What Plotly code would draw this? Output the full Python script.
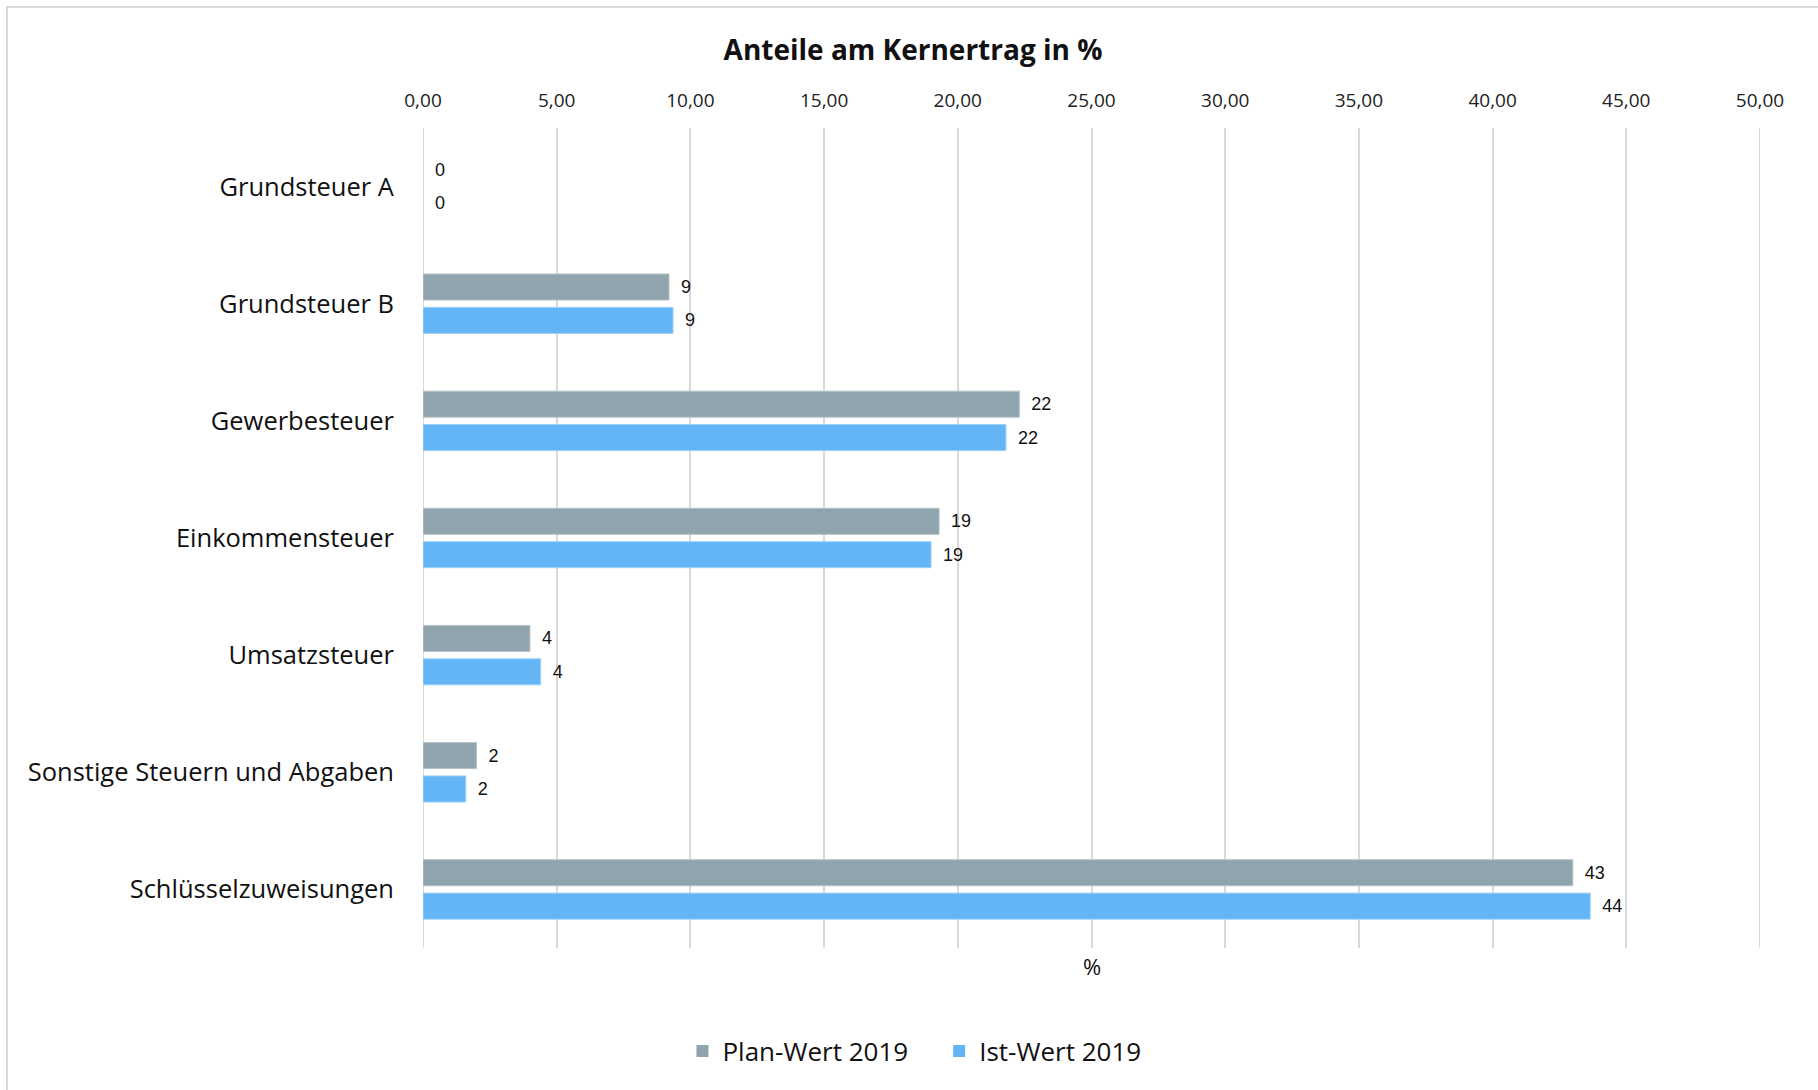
import plotly.graph_objects as go

categories = [
    "Grundsteuer A",
    "Grundsteuer B",
    "Gewerbesteuer",
    "Einkommensteuer",
    "Umsatzsteuer",
    "Sonstige Steuern und Abgaben",
    "Schlüsselzuweisungen",
]
plan_2019 = [0.0, 9.2, 22.3, 19.3, 4.0, 2.0, 43.0]
ist_2019 = [0.0, 9.35, 21.8, 19.0, 4.4, 1.6, 43.65]
x_ticks = [0, 5, 10, 15, 20, 25, 30, 35, 40, 45, 50]
x_tick_labels = ["0,00", "5,00", "10,00", "15,00", "20,00", "25,00",
                 "30,00", "35,00", "40,00", "45,00", "50,00"]

GRAY = "#90A4AE"
BLUE = "#64B5F6"
FONT = "Open Sans"
LABEL_FONT = dict(family="Liberation Sans, Arial", size=18, color="#111111")


def edge_widths(values):
    return [0 if v == 0 else 1 for v in values]


fig = go.Figure()
fig.add_trace(go.Bar(
    y=categories, x=plan_2019, orientation="h", name="Plan-Wert 2019\u2003",
    marker=dict(color=GRAY, line=dict(color="#B4C2C9", width=edge_widths(plan_2019))),
    texttemplate="\u2002%{x:.0f}", textposition="outside", cliponaxis=False,
    textfont=LABEL_FONT, hoverinfo="skip",
))
fig.add_trace(go.Bar(
    y=categories, x=ist_2019, orientation="h", name="Ist-Wert 2019",
    marker=dict(color=BLUE, line=dict(color="#9CD0FA", width=edge_widths(ist_2019))),
    texttemplate="\u2002%{x:.0f}", textposition="outside", cliponaxis=False,
    textfont=LABEL_FONT, hoverinfo="skip",
))

fig.update_layout(
    width=1818, height=1090,
    margin=dict(l=423, r=58, t=128, b=142),
    paper_bgcolor="white", plot_bgcolor="white",
    barmode="group", bargap=0.43, bargroupgap=0.22,
    font=dict(family=FONT, color="#111111"),
    title=dict(text="<b>Anteile am Kernertrag in %</b>",
               x=913 / 1818, xref="container", xanchor="center",
               y=1 - 50 / 1090, yref="container", yanchor="middle",
               font=dict(family=FONT, size=28, color="#111111")),
    legend=dict(orientation="h", xref="container", x=0.503, xanchor="center",
                yref="container", y=1 - 1051 / 1090, yanchor="middle",
                font=dict(family=FONT, size=26, color="#111111"),
                itemwidth=30, traceorder="normal"),
    showlegend=True,
)
fig.update_xaxes(
    side="top", range=[0, 50], tickvals=x_ticks, ticktext=x_tick_labels,
    showgrid=True, gridcolor="#D9D9D9", gridwidth=2,
    zeroline=False, showline=False, ticks="",
    tickfont=dict(family=FONT, size=19, color="#222222"),
    ticklabelstandoff=16, fixedrange=True,
)
fig.update_yaxes(
    autorange="reversed", showgrid=False, showline=False, ticks="",
    tickfont=dict(family=FONT, size=25.5, color="#111111"),
    ticklabelstandoff=28, fixedrange=True,
)
# gridlines at the range ends (plotly drops them at the plot edge)
for edge in (x_ticks[0], x_ticks[-1]):
    fig.add_vline(x=edge, line=dict(color="#D9D9D9", width=2), layer="below")
fig.add_annotation(text="%", xref="x domain", yref="paper", x=0.5,
                   y=1 - (966 - 128) / 820, yanchor="middle", showarrow=False,
                   font=dict(family=FONT, size=22, color="#111111"))
# light chart border
fig.add_shape(type="rect", xref="paper", yref="paper",
              x0=(7 - 423) / 1337, x1=(1830 - 423) / 1337,
              y0=1 - (1100 - 128) / 820, y1=1 + (128 - 7) / 820,
              line=dict(color="#D9D9D9", width=2), fillcolor="rgba(0,0,0,0)",
              layer="below")

fig.write_html("out.html")
